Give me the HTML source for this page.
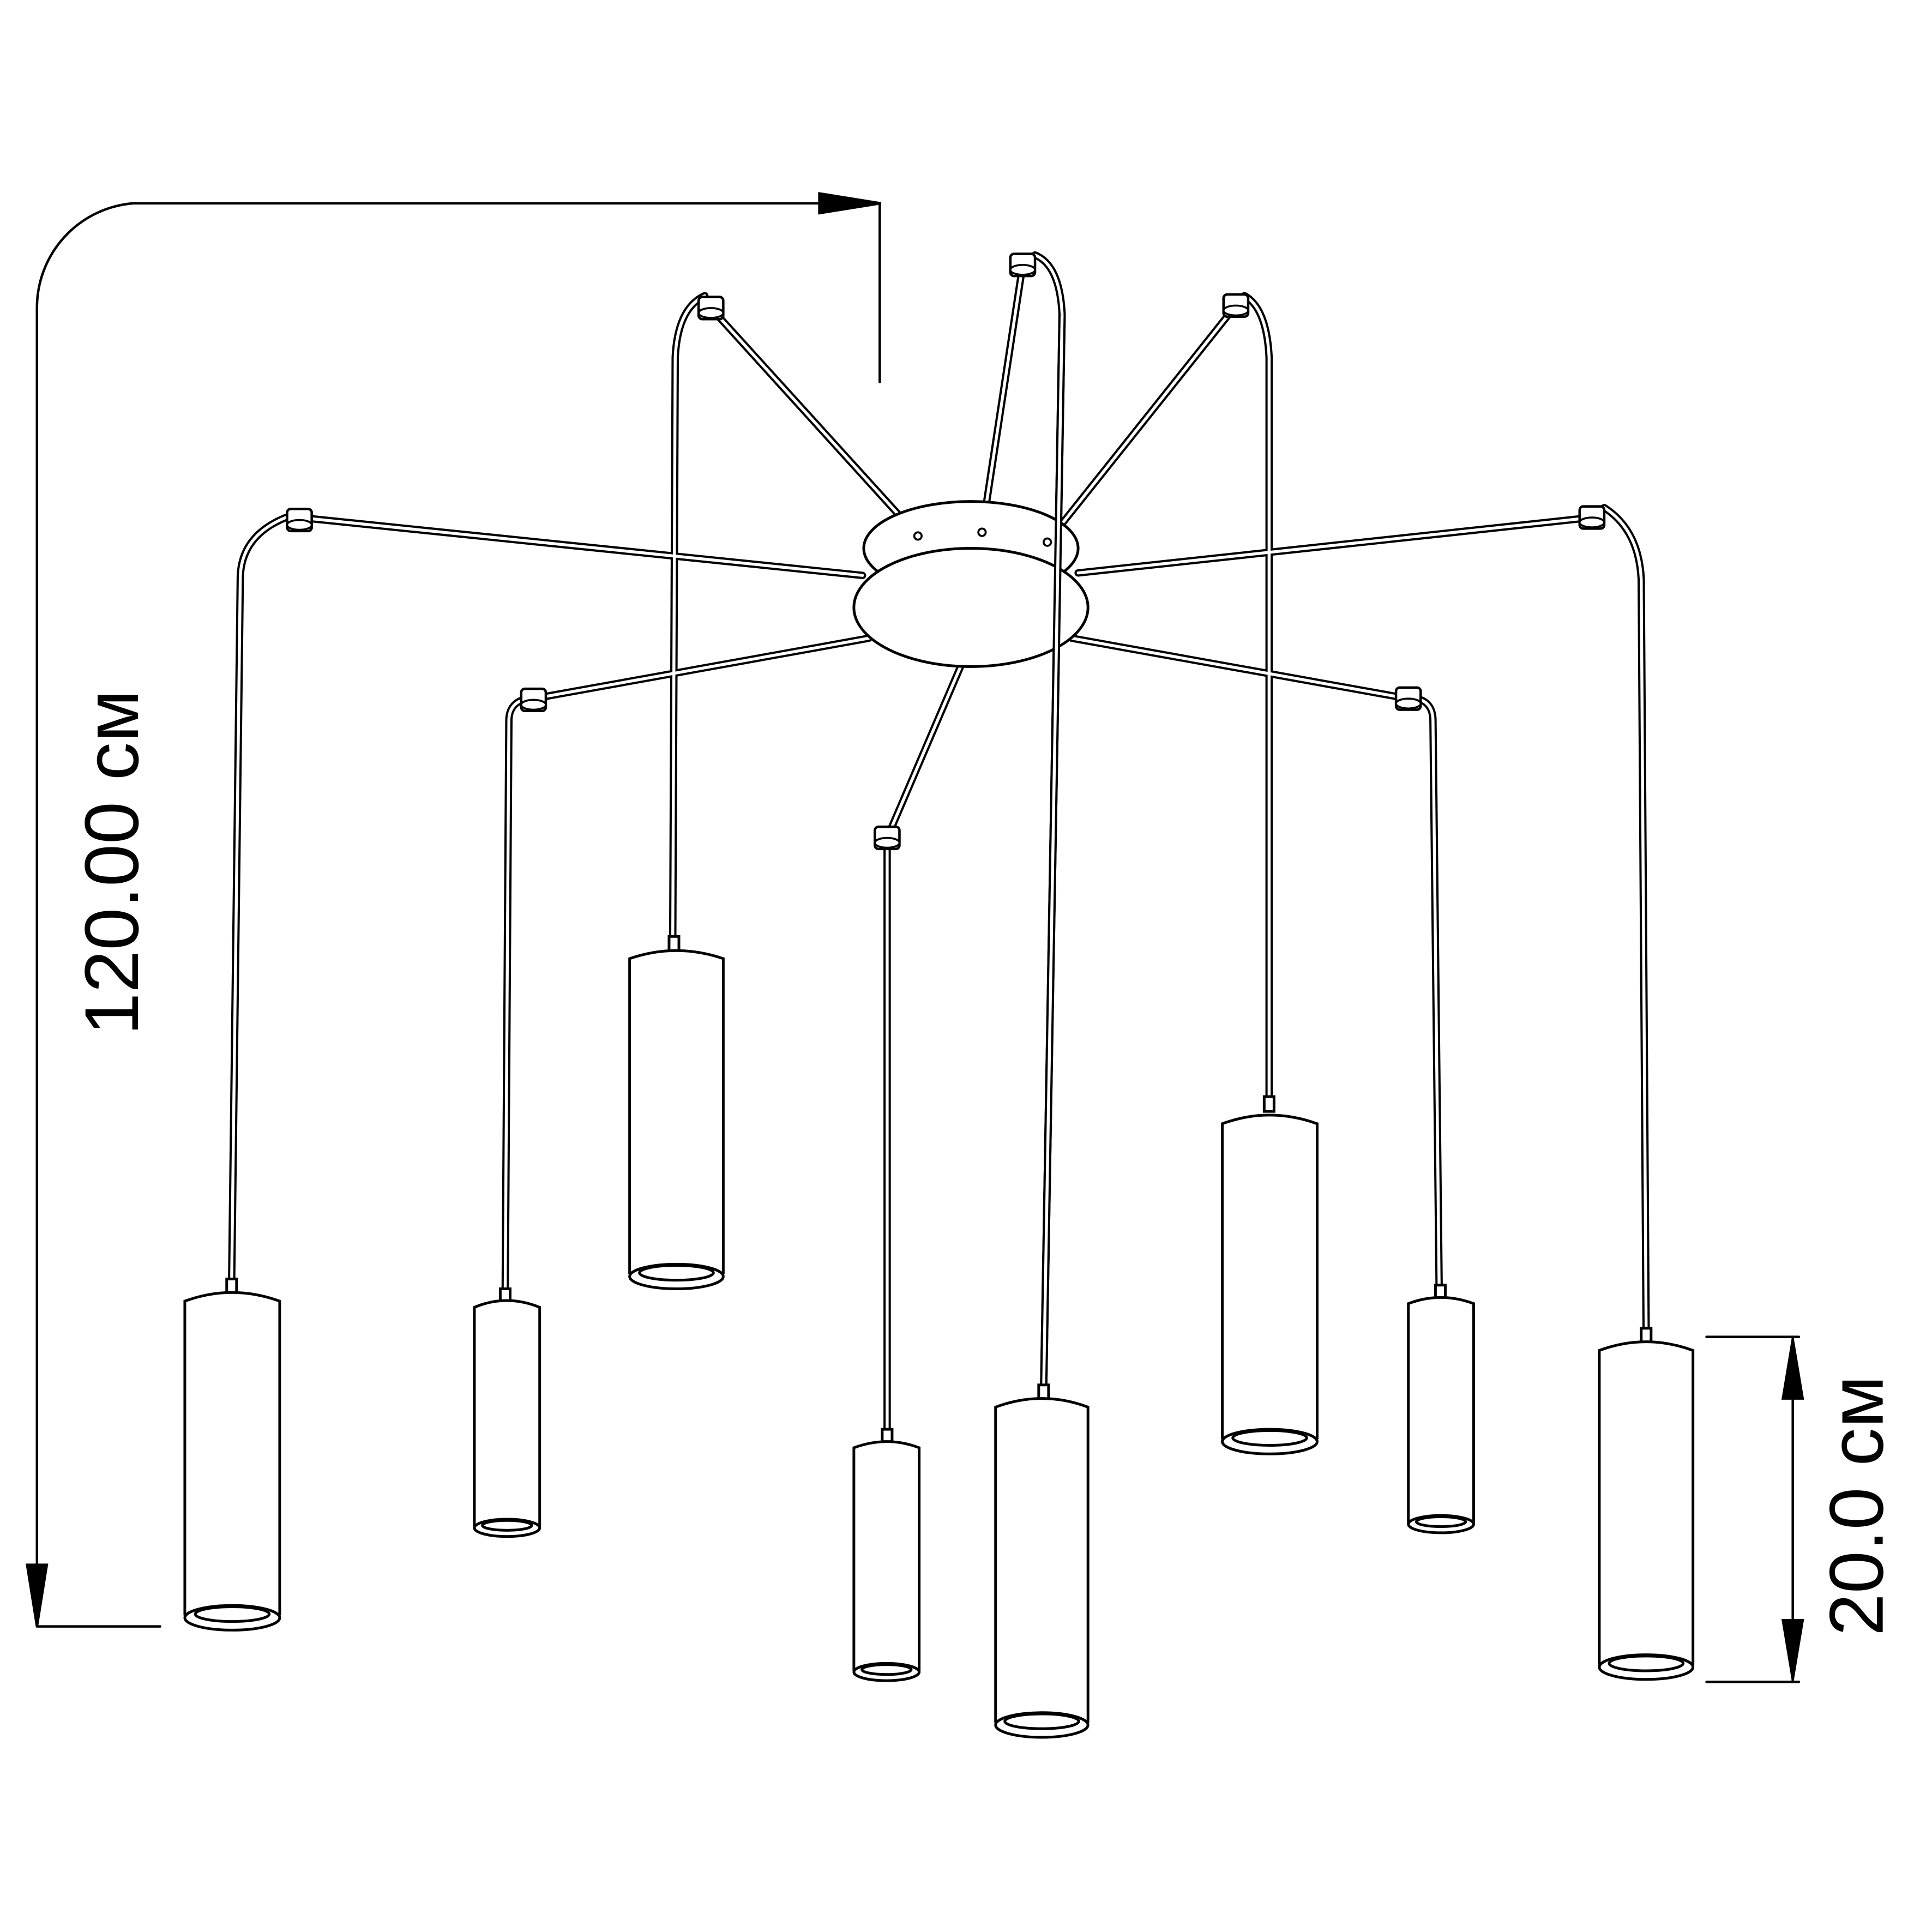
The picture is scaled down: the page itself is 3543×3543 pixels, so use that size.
<!DOCTYPE html>
<html><head><meta charset="utf-8"><style>
html,body{margin:0;padding:0;background:#fff}
svg{display:block}
</style></head><body>
<svg width="3543" height="3543" viewBox="0 0 1568 1568" xmlns="http://www.w3.org/2000/svg">
<defs>
<g id="hook"><rect x="-10" y="-9" width="20" height="18" rx="3" fill="#fff" stroke="#000" stroke-width="2"/><ellipse cx="0" cy="4" rx="10" ry="4" fill="#fff" stroke="#000" stroke-width="1.6"/></g>
</defs>
<g fill="none" stroke="#000" stroke-width="2" stroke-linecap="round">
<path d="M30 1318 V250 A85 85 0 0 1 108 165 H712"/>
<polygon points="665,157 715,165 665,173" fill="#000"/>
<polygon points="22,1270 30,1320 38,1270" fill="#000"/>
<line x1="714" y1="165" x2="714" y2="310"/>
<line x1="30" y1="1320" x2="130" y2="1320"/>
<line x1="1385" y1="1085" x2="1460" y2="1085"/>
<line x1="1385" y1="1365" x2="1460" y2="1365"/>
<line x1="1455" y1="1085" x2="1455" y2="1365"/>
<polygon points="1447,1135 1455,1087 1463,1135" fill="#000"/>
<polygon points="1447,1315 1455,1363 1463,1315" fill="#000"/>
</g>
<text transform="translate(112,700) rotate(-90)" text-anchor="middle" font-family="Liberation Sans, sans-serif" font-size="62">120.00 см</text>
<text transform="translate(1528,1222) rotate(-90)" text-anchor="middle" font-family="Liberation Sans, sans-serif" font-size="62">20.0 см</text>

<g fill="none" stroke-linejoin="round" stroke-linecap="round">
<g stroke="#000" stroke-width="6">
<path d="M232 420 Q195 435 195 470 L188 1040"/>
<path d="M428 567 Q413 570 413 585 L410 1050"/>
<path d="M572 240 Q550 250 548 290 L546 760"/>
<path d="M720 680 L720 1165"/>
<path d="M840 207 Q860 215 862 255 L847 1128"/>
<path d="M1010 240 Q1028 250 1030 290 L1030 893"/>
<path d="M1150 567 Q1163 570 1163 585 L1168 1045"/>
<path d="M1302 412 Q1330 430 1332 470 L1336 1082"/>
<path d="M700 467 L243 420"/>
<path d="M705 518 L433 567"/>
<path d="M745 435 L577 250"/>
<path d="M797 432 L830 215"/>
<path d="M850 440 L1003 248"/>
<path d="M875 465 L1292 420"/>
<path d="M870 518 L1143 567"/>
<path d="M780 540 L720 680"/>
</g>
<g stroke="#fff" stroke-width="2.4">
<path d="M232 420 Q195 435 195 470 L188 1040"/>
<path d="M428 567 Q413 570 413 585 L410 1050"/>
<path d="M572 240 Q550 250 548 290 L546 760"/>
<path d="M720 680 L720 1165"/>
<path d="M840 207 Q860 215 862 255 L847 1128"/>
<path d="M1010 240 Q1028 250 1030 290 L1030 893"/>
<path d="M1150 567 Q1163 570 1163 585 L1168 1045"/>
<path d="M1302 412 Q1330 430 1332 470 L1336 1082"/>
<path d="M700 467 L243 420"/>
<path d="M705 518 L433 567"/>
<path d="M745 435 L577 250"/>
<path d="M797 432 L830 215"/>
<path d="M850 440 L1003 248"/>
<path d="M875 465 L1292 420"/>
<path d="M870 518 L1143 567"/>
<path d="M780 540 L720 680"/>
</g>
</g>

<g stroke="#000" stroke-width="2.2" fill="#fff">
<ellipse cx="788" cy="445" rx="87" ry="38"/>
<ellipse cx="788" cy="493" rx="95" ry="48"/>
</g>
<path d="M862 255 L847 1128" stroke="#000" stroke-width="6" fill="none"/>
<path d="M862 255 L847 1128" stroke="#fff" stroke-width="2.4" fill="none"/>
<g fill="#fff" stroke="#000" stroke-width="1.6">
<circle cx="745" cy="435" r="3"/><circle cx="797" cy="432" r="3"/><circle cx="850" cy="440" r="3"/>
</g>

<use href="#hook" x="243" y="422"/>
<use href="#hook" x="433" y="568"/>
<use href="#hook" x="577" y="250"/>
<use href="#hook" x="720" y="680"/>
<use href="#hook" x="830" y="215"/>
<use href="#hook" x="1003" y="248"/>
<use href="#hook" x="1143" y="567"/>
<use href="#hook" x="1292" y="420"/>

<g fill="#fff" stroke="#000" stroke-width="2.2">
<g>
<rect x="184" y="1038" width="8" height="12"/>
<path d="M150 1056 Q188 1042 227 1056 V1310 H150 Z"/>
<ellipse cx="188.5" cy="1313" rx="38.5" ry="10"/><ellipse cx="188.5" cy="1310" rx="30" ry="6"/>
</g>
<g>
<rect x="406" y="1046" width="8" height="10"/>
<path d="M385 1061 Q411 1050 438 1061 V1238 H385 Z"/>
<ellipse cx="411.5" cy="1240" rx="26.5" ry="7"/><ellipse cx="411.5" cy="1238" rx="20" ry="4"/>
</g>
<g>
<rect x="543" y="760" width="8" height="12"/>
<path d="M511 778 Q549 765 587 778 V1033 H511 Z"/>
<ellipse cx="549" cy="1036" rx="38" ry="10"/><ellipse cx="549" cy="1033" rx="30" ry="6"/>
</g>
<g>
<rect x="716" y="1160" width="8" height="10"/>
<path d="M693 1175 Q720 1165 746 1175 V1355 H693 Z"/>
<ellipse cx="719.5" cy="1357" rx="26.5" ry="7"/><ellipse cx="719.5" cy="1355" rx="20" ry="4"/>
</g>
<g>
<rect x="843" y="1124" width="8" height="12"/>
<path d="M808 1142 Q846 1128 883 1142 V1397 H808 Z"/>
<ellipse cx="845.5" cy="1400" rx="37.5" ry="10"/><ellipse cx="845.5" cy="1397" rx="30" ry="6"/>
</g>
<g>
<rect x="1026" y="890" width="8" height="12"/>
<path d="M992 912 Q1030 898 1069 912 V1167 H992 Z"/>
<ellipse cx="1030.5" cy="1170" rx="38.5" ry="10"/><ellipse cx="1030.5" cy="1167" rx="30" ry="6"/>
</g>
<g>
<rect x="1165" y="1043" width="8" height="10"/>
<path d="M1143 1058 Q1169 1048 1196 1058 V1235 H1143 Z"/>
<ellipse cx="1169.5" cy="1237" rx="26.5" ry="7"/><ellipse cx="1169.5" cy="1235" rx="20" ry="4"/>
</g>
<g>
<rect x="1332" y="1078" width="8" height="12"/>
<path d="M1298 1096 Q1336 1082 1374 1096 V1350 H1298 Z"/>
<ellipse cx="1336" cy="1353" rx="38" ry="10"/><ellipse cx="1336" cy="1350" rx="30" ry="6"/>
</g>
</g>
</svg>
</body></html>
